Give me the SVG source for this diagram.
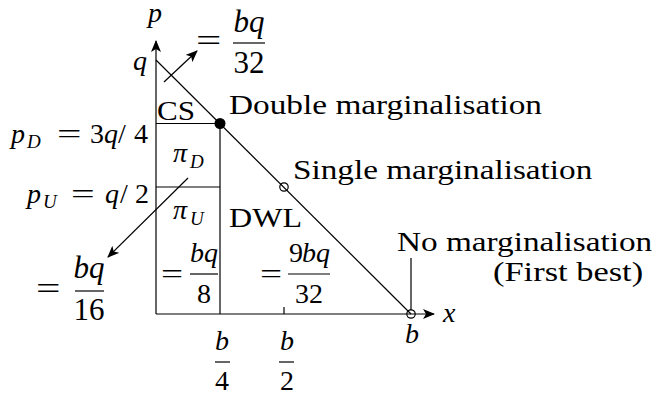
<svg xmlns="http://www.w3.org/2000/svg" width="663" height="401" viewBox="0 0 663 401">
<style>
svg text, svg tspan{font-family:'Liberation Serif' !important}
text{fill:#000;font-size:28px}
.i{font-style:italic}
.sub{font-style:italic;font-size:19px}
.big{font-size:31px}
.fr{font-size:28px}
.ln{stroke:#000;stroke-width:1.2;fill:none}
</style>
<defs>
<marker id="ah" viewBox="0 0 12 10" refX="11" refY="5" markerWidth="12" markerHeight="10" markerUnits="userSpaceOnUse" orient="auto">
<path d="M0,0 L12,5 L0,10 L3,5 z" fill="#000"/>
</marker>
</defs>
<rect width="663" height="401" fill="#fff"/>
<g id="connectors">
<line class="ln" x1="156" y1="314" x2="156" y2="41" marker-end="url(#ah)"/>
<line class="ln" x1="156" y1="314" x2="434" y2="314" marker-end="url(#ah)"/>
<line class="ln" x1="156" y1="60" x2="411" y2="314"/>
<line class="ln" x1="156" y1="123.5" x2="220" y2="123.5"/>
<line class="ln" x1="156" y1="187" x2="220" y2="187"/>
<line class="ln" x1="220" y1="123.5" x2="220" y2="314"/>
<line class="ln" x1="284" y1="307" x2="284" y2="314"/>
<line class="ln" x1="411" y1="258" x2="411" y2="310"/>
<line class="ln" x1="164" y1="82" x2="197" y2="51" marker-end="url(#ah)"/>
<line class="ln" x1="188" y1="178" x2="108" y2="257" marker-end="url(#ah)"/>
</g>
<g id="double">
<circle cx="220" cy="123.5" r="5.5" fill="#000"/>
<text font-family="Liberation Serif" transform="translate(229 114) scale(1.19 1)">Double marginalisation</text>
</g>
<g id="single">
<circle cx="284" cy="187" r="4.2" fill="none" stroke="#000" stroke-width="1.2"/>
<text font-family="Liberation Serif" transform="translate(293 179) scale(1.187 1)">Single marginalisation</text>
</g>
<g id="nomarg">
<circle cx="411" cy="314" r="4.2" fill="none" stroke="#000" stroke-width="1.2"/>
<text font-family="Liberation Serif" transform="translate(397 251) scale(1.188 1)">No marginalisation</text>
<text font-family="Liberation Serif" transform="translate(493 281) scale(1.23 1)">(First best)</text>
</g>
<g id="axis-labels">
<text font-family="Liberation Serif" class="i" x="148" y="22">p</text>
<text font-family="Liberation Serif" class="i" x="133" y="70">q</text>
<text font-family="Liberation Serif" class="i" x="443" y="322">x</text>
<text font-family="Liberation Serif" class="i" x="405" y="343">b</text>
</g>
<g id="price-labels">
<text font-family="Liberation Serif" class="i" x="11" y="143">p</text>
<text font-family="Liberation Serif" class="sub" x="27" y="148">D</text>
<text font-family="Liberation Serif" transform="translate(57 143) scale(1.55 1)">=</text>
<text font-family="Liberation Serif" x="90" y="143">3</text>
<text font-family="Liberation Serif" class="i" x="104" y="143">q</text>
<text font-family="Liberation Serif" x="118" y="143">/</text>
<text font-family="Liberation Serif" x="134" y="143">4</text>
<text font-family="Liberation Serif" class="i" x="27" y="203">p</text>
<text font-family="Liberation Serif" class="sub" x="43" y="208">U</text>
<text font-family="Liberation Serif" transform="translate(71 203) scale(1.5 1)">=</text>
<text font-family="Liberation Serif" class="i" x="105" y="203">q</text>
<text font-family="Liberation Serif" x="120" y="203">/</text>
<text font-family="Liberation Serif" x="135" y="203">2</text>
</g>
<g id="areas">
<text font-family="Liberation Serif" transform="translate(157 120) scale(1.11 1)">CS</text>
<text font-family="Liberation Serif" class="i" x="173" y="162">&#960;</text>
<text font-family="Liberation Serif" class="sub" x="190" y="168">D</text>
<text font-family="Liberation Serif" class="i" x="173" y="219">&#960;</text>
<text font-family="Liberation Serif" class="sub" x="190" y="225">U</text>
<text font-family="Liberation Serif" transform="translate(229 227) scale(1.145 1)">DWL</text>
</g>
<g id="frac-cs">
<text font-family="Liberation Serif" class="big" transform="translate(196 51) scale(1.45 1)">=</text>
<text font-family="Liberation Serif" class="big i" x="249" y="32" text-anchor="middle">bq</text>
<line class="ln" x1="233" y1="43" x2="265" y2="43"/>
<text font-family="Liberation Serif" class="big" x="249" y="73" text-anchor="middle">32</text>
</g>
<g id="frac-pid">
<text font-family="Liberation Serif" class="big" transform="translate(36 299) scale(1.4 1)">=</text>
<text font-family="Liberation Serif" class="big i" x="89" y="278" text-anchor="middle">bq</text>
<line class="ln" x1="75" y1="291" x2="104" y2="291"/>
<text font-family="Liberation Serif" class="big" x="89" y="320" text-anchor="middle">16</text>
</g>
<g id="frac-piu">
<text font-family="Liberation Serif" class="fr" transform="translate(161 283) scale(1.4 1)">=</text>
<text font-family="Liberation Serif" class="fr i" x="204" y="262" text-anchor="middle">bq</text>
<line class="ln" x1="190" y1="274" x2="218" y2="274"/>
<text font-family="Liberation Serif" class="fr" x="204" y="303" text-anchor="middle">8</text>
</g>
<g id="frac-dwl">
<text font-family="Liberation Serif" class="fr" transform="translate(260 283) scale(1.4 1)">=</text>
<text font-family="Liberation Serif" class="fr" x="296" y="262" text-anchor="middle">9</text>
<text font-family="Liberation Serif" class="fr i" x="316" y="262" text-anchor="middle">bq</text>
<line class="ln" x1="288" y1="274" x2="330" y2="274"/>
<text font-family="Liberation Serif" class="fr" x="309" y="303" text-anchor="middle">32</text>
</g>
<g id="x-ticks">
<text font-family="Liberation Serif" class="fr i" x="222" y="350" text-anchor="middle">b</text>
<line class="ln" x1="215" y1="362" x2="230" y2="362"/>
<text font-family="Liberation Serif" class="fr" x="222" y="390" text-anchor="middle">4</text>
<text font-family="Liberation Serif" class="fr i" x="287" y="350" text-anchor="middle">b</text>
<line class="ln" x1="279" y1="362" x2="294" y2="362"/>
<text font-family="Liberation Serif" class="fr" x="287" y="390" text-anchor="middle">2</text>
</g>
</svg>
